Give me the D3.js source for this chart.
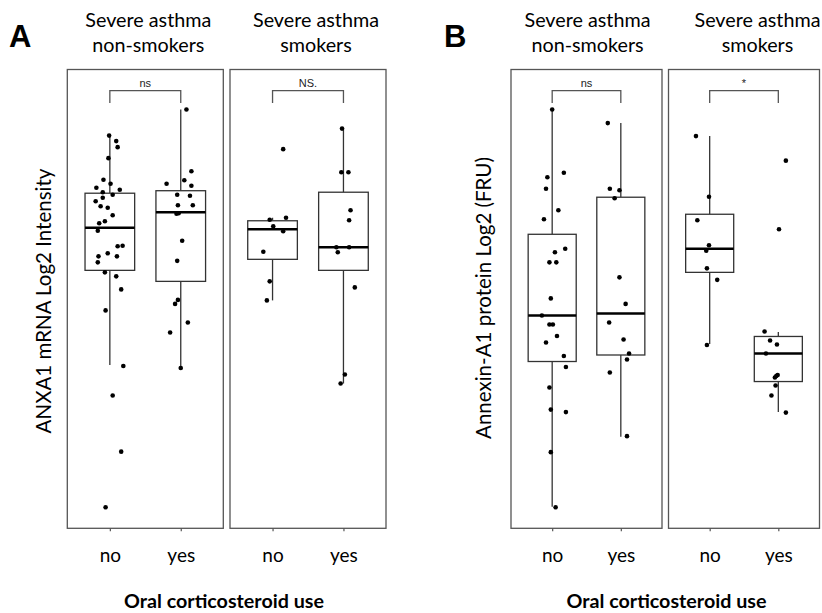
<!DOCTYPE html>
<html>
<head>
<meta charset="utf-8">
<script src="https://cdn.jsdelivr.net/npm/d3@7"></script>
<style>
  html, body { margin: 0; padding: 0; background: #fff; }
  svg { display: block; }
</style>
</head>
<body>
<svg id="chart" width="822" height="613"></svg>
<script>
// ---- categories and labels ----
const useGroups = ["no", "yes"];
const cohortLines = [["Severe asthma", "non-smokers"], ["Severe asthma", "smokers"]];
const xTitle = "Oral corticosteroid use";
const panelLetters = ["A", "B"];
const yTitles = ["ANXA1 mRNA Log2 Intensity", "Annexin-A1 protein Log2 (FRU)"];
const sigLabelsMrna = ["ns", "NS."];
const sigLabelsProtein = ["ns", "*"];
const valueDomain = [0, 9.16];          // log2 units, axis is unlabelled
const bracketLevels = [8.49, 8.74];     // leg end, bar height

// ---- observations: [jitter in category steps, log2 value] ----
const mrnaNonSmokersNo = [
  [-0.01,7.84],[0.09,7.73],[0.11,7.61],[-0.02,7.39],[-0.09,6.96],[0.01,6.88],[-0.19,6.80],[-0.10,6.71],
  [0.14,6.76],[0.04,6.66],[-0.20,6.53],[-0.10,6.60],[-0.13,6.43],[-0.03,6.40],[0.04,6.25],[-0.07,6.13],
  [-0.15,6.09],[-0.17,5.94],[0.11,5.63],[0.18,5.64],[0.10,5.43],[-0.03,5.49],[-0.16,5.43],[-0.17,5.31],
  [-0.07,5.11],[0.09,5.03],[0.16,4.77],[-0.06,4.35],[0.19,3.24],[0.04,2.65],[0.16,1.53],[-0.06,0.42]
];
const mrnaNonSmokersYes = [
  [0.08,8.36],[0.15,7.13],[0.05,6.95],[-0.20,6.88],[0.15,6.84],[-0.05,6.66],[0.13,6.64],[-0.04,6.45],
  [0.17,6.45],[-0.06,6.28],[-0.03,6.29],[0.02,5.74],[-0.05,5.34],[-0.04,4.56],[-0.08,4.48],[0.10,4.11],
  [-0.15,3.91],[0.00,3.20]
];
const mrnaSmokersNo = [
  [0.15,7.57],[-0.04,6.16],[0.19,6.20],[0.01,6.03],[0.15,5.93],[-0.13,5.52],[-0.04,4.93],[-0.08,4.55]
];
const mrnaSmokersYes = [
  [-0.02,7.98],[-0.03,7.11],[0.07,7.11],[0.10,6.35],[0.08,6.15],[-0.10,5.61],[0.08,5.61],[-0.08,5.51],
  [0.16,4.81],[0.02,3.07],[-0.04,2.89]
];
const proteinNonSmokersNo = [
  [0.00,8.36],[0.17,7.10],[-0.07,7.01],[-0.09,6.78],[0.09,6.35],[-0.12,6.17],[0.19,5.58],[0.04,5.51],
  [-0.04,5.31],[0.06,5.31],[-0.02,4.59],[-0.15,4.25],[-0.04,4.07],[0.01,4.07],[0.07,3.84],[-0.09,3.71],
  [0.17,3.44],[0.20,3.22],[-0.04,2.81],[-0.02,2.37],[0.20,2.32],[-0.02,1.52],[0.05,0.42]
];
const proteinNonSmokersYes = [
  [-0.19,8.09],[-0.16,6.78],[-0.02,6.75],[-0.09,6.59],[-0.02,5.01],[0.07,4.48],[-0.17,4.11],[0.04,3.77],
  [0.12,3.49],[0.09,3.37],[-0.16,3.11],[0.09,1.84]
];
const proteinSmokersNo = [
  [-0.20,7.83],[-0.01,6.62],[-0.18,6.15],[-0.01,5.65],[-0.05,5.54],[-0.04,5.19],[0.11,4.96],[-0.04,3.66]
];
const proteinSmokersYes = [
  [0.11,7.34],[0.01,5.97],[-0.20,3.93],[-0.12,3.75],[-0.02,3.67],[-0.18,3.49],[-0.01,3.06],[-0.05,3.01],
  [-0.03,3.04],[-0.04,2.85],[-0.10,2.65],[0.11,2.31]
];

// ---- box summaries: [lower whisker, Q1, median, Q3, upper whisker] ----
const mrnaBoxNonSmokers    = [[3.26,5.15,6.00,6.69,7.84], [3.20,4.93,6.31,6.74,8.36]];
const mrnaBoxSmokers       = [[4.55,5.37,5.97,6.14,6.20], [2.89,5.15,5.61,6.71,7.98]];
const proteinBoxNonSmokers = [[0.43,3.33,4.25,5.87,8.36], [1.83,3.46,4.29,6.61,8.09]];
const proteinBoxSmokers    = [[3.68,5.11,5.58,6.27,7.83], [2.32,2.93,3.49,3.83,3.92]];

// ---- layout ----
const plotTop = 69.5, plotBottom = 528.3;
const sansFont = "Lato, 'Open Sans', sans-serif";
const panels = [
  {
    letter: panelLetters[0], letterX: 9, yTitle: yTitles[0], yTitleX: 51, yTitleY: 301, titleX: 224,
    facets: [
      { x0: 67.3, x1: 223.3, headX: 148.3, head: cohortLines[0], obs: [mrnaNonSmokersNo, mrnaNonSmokersYes], box: mrnaBoxNonSmokers, sig: sigLabelsMrna[0] },
      { x0: 230,  x1: 386,   headX: 316,   head: cohortLines[1], obs: [mrnaSmokersNo, mrnaSmokersYes],       box: mrnaBoxSmokers,    sig: sigLabelsMrna[1] }
    ]
  },
  {
    letter: panelLetters[1], letterX: 444, yTitle: yTitles[1], yTitleX: 491, yTitleY: 298, titleX: 666.5,
    facets: [
      { x0: 511,   x1: 662,   headX: 587.5, head: cohortLines[0], obs: [proteinNonSmokersNo, proteinNonSmokersYes], box: proteinBoxNonSmokers, sig: sigLabelsProtein[0] },
      { x0: 668.5, x1: 819.5, headX: 757.5, head: cohortLines[1], obs: [proteinSmokersNo, proteinSmokersYes],       box: proteinBoxSmokers,    sig: sigLabelsProtein[1] }
    ]
  }
];

const svg = d3.select("#chart");

// scale a text element's font size so its rendered width hits a target; returns the size used
function fitWidth(sel, target) {
  const node = sel.node();
  const fs = parseFloat(sel.attr("font-size"));
  const w = node.getComputedTextLength();
  const size = w > 0 ? fs * target / w : fs;
  sel.attr("font-size", size.toFixed(2));
  return size;
}

const y = d3.scaleLinear().domain(valueDomain).range([plotBottom, plotTop]);

panels.forEach(p => {
  const g = svg.append("g");

  // panel letter
  g.append("text").attr("x", p.letterX).attr("y", 46.7)
    .attr("font-family", "'Liberation Sans', Arial, sans-serif").attr("font-weight", "bold")
    .attr("font-size", 31).attr("fill", "#000").text(p.letter);

  // y title
  g.append("text")
    .attr("transform", `translate(${p.yTitleX},${p.yTitleY}) rotate(-90)`)
    .attr("text-anchor", "middle").attr("font-family", sansFont).attr("font-size", 20.5)
    .attr("fill", "#000").text(p.yTitle);

  // x title
  const xt = g.append("text").attr("x", p.titleX).attr("y", 608)
    .attr("text-anchor", "middle").attr("font-family", sansFont).attr("font-weight", "bold")
    .attr("font-size", 20).attr("fill", "#000").text(xTitle);
  fitWidth(xt, 200);

  p.facets.forEach(f => {
    const x = d3.scalePoint().domain(useGroups).range([f.x0, f.x1]).padding(0.6);
    const step = x.step();
    const half = step * 0.35;
    const fg = g.append("g");

    // cohort header, both lines at the size that fits the first
    const h1 = fg.append("text").attr("x", f.headX).attr("y", 26.7)
      .attr("text-anchor", "middle").attr("font-family", sansFont).attr("font-size", 20)
      .attr("fill", "#000").text(f.head[0]);
    const headSize = fitWidth(h1, 126);
    fg.append("text").attr("x", f.headX).attr("y", 51.8)
      .attr("text-anchor", "middle").attr("font-family", sansFont).attr("font-size", headSize.toFixed(2))
      .attr("fill", "#000").text(f.head[1]);

    // panel frame
    fg.append("rect").attr("x", f.x0).attr("y", plotTop)
      .attr("width", f.x1 - f.x0).attr("height", plotBottom - plotTop)
      .attr("fill", "#fff").attr("stroke", "#555").attr("stroke-width", 1.3);

    // x axis
    const ax = fg.append("g").attr("transform", `translate(0,${plotBottom})`)
      .call(d3.axisBottom(x).tickSize(3).tickPadding(17));
    ax.select(".domain").remove();
    ax.selectAll(".tick line").attr("stroke", "#555").attr("stroke-width", 1.2);
    ax.selectAll(".tick text").attr("font-family", sansFont).attr("font-size", 19).attr("fill", "#000");

    // boxes
    useGroups.forEach((grp, gi) => {
      const [lo, q1, med, q3, hi] = f.box[gi];
      const cx = x(grp);
      const bg = fg.append("g");
      bg.append("line").attr("x1", cx).attr("x2", cx).attr("y1", y(hi)).attr("y2", y(q3))
        .attr("stroke", "#333").attr("stroke-width", 1.3);
      bg.append("line").attr("x1", cx).attr("x2", cx).attr("y1", y(q1)).attr("y2", y(lo))
        .attr("stroke", "#333").attr("stroke-width", 1.3);
      bg.append("rect").attr("x", cx - half).attr("y", y(q3))
        .attr("width", half * 2).attr("height", y(q1) - y(q3))
        .attr("fill", "#fff").attr("stroke", "#333").attr("stroke-width", 1.3);
      bg.append("line").attr("x1", cx - half).attr("x2", cx + half).attr("y1", y(med)).attr("y2", y(med))
        .attr("stroke", "#000").attr("stroke-width", 2.4);
    });

    // jittered observations
    useGroups.forEach((grp, gi) => {
      fg.append("g").selectAll("circle").data(f.obs[gi]).join("circle")
        .attr("cx", d => x(grp) + d[0] * step)
        .attr("cy", d => y(d[1]))
        .attr("r", 2.3).attr("fill", "#000");
    });

    // significance bracket
    const xa = x(useGroups[0]), xb = x(useGroups[1]);
    fg.append("path")
      .attr("d", `M${xa},${y(bracketLevels[0])}V${y(bracketLevels[1])}H${xb}V${y(bracketLevels[0])}`)
      .attr("fill", "none").attr("stroke", "#555").attr("stroke-width", 1.3);
    fg.append("text").attr("x", (xa + xb) / 2).attr("y", y(bracketLevels[1]) - 4)
      .attr("text-anchor", "middle").attr("font-family", "'Liberation Sans', Arial, sans-serif")
      .attr("font-size", 11).attr("fill", "#222").text(f.sig);
  });
});
</script>
</body>
</html>
